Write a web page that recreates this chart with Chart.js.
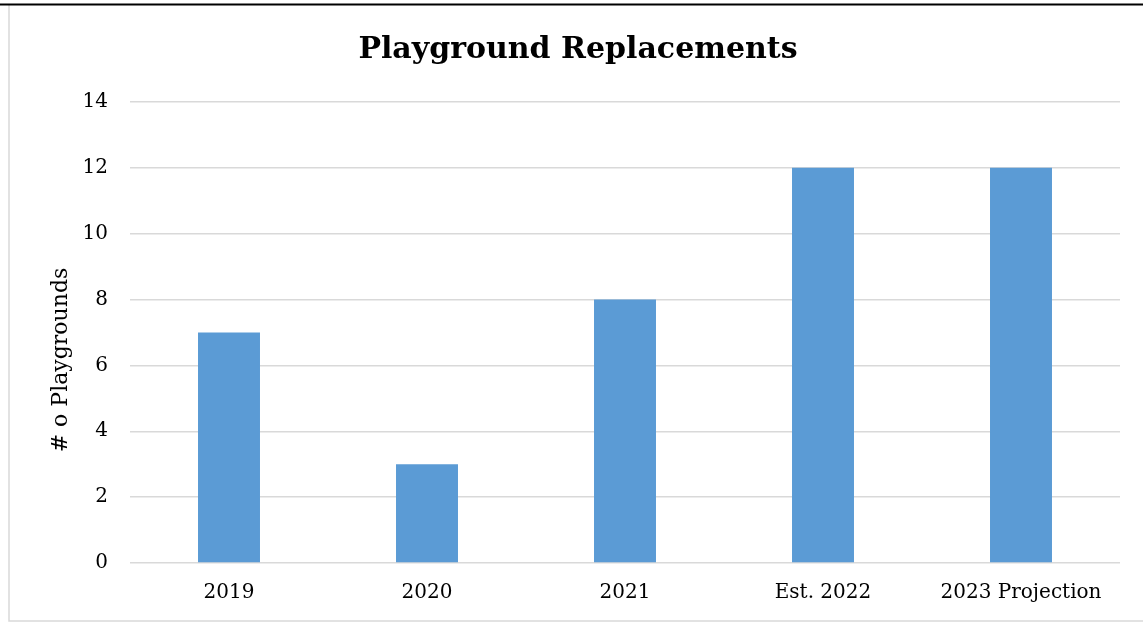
<!DOCTYPE html>
<html>
<head>
<meta charset="utf-8">
<script src="https://cdn.jsdelivr.net/npm/chart.js@4/dist/chart.umd.min.js"></script>
<style>
  html, body { margin: 0; padding: 0; background: #fff; }
  #wrap { position: relative; width: 1143px; height: 623px; }
  canvas { display: block; }
</style>
</head>
<body>
<div id="wrap"><canvas id="c" width="1143" height="623"></canvas></div>
<script>
const categories = ["2019", "2020", "2021", "Est. 2022", "2023 Projection"];
const playgrounds = [7, 3, 8, 12, 12];
const yTicks = [0, 2, 4, 6, 8, 10, 12, 14];
const chartTitle = "Playground Replacements";
const yAxisTitle = "# o Playgrounds";

const FONT = "'DejaVu Serif', serif";

const framePlugin = {
  id: 'frame',
  afterDraw(chart) {
    const ctx = chart.ctx;
    ctx.save();
    ctx.strokeStyle = '#d9d9d9';
    ctx.lineWidth = 1.5;
    ctx.beginPath();
    ctx.moveTo(9, 5);
    ctx.lineTo(9, 621);
    ctx.lineTo(1143, 621);
    ctx.stroke();
    ctx.strokeStyle = '#000';
    ctx.lineWidth = 2;
    ctx.beginPath();
    ctx.moveTo(0, 4.5);
    ctx.lineTo(1143, 4.5);
    ctx.stroke();
    // chart title
    ctx.fillStyle = '#000';
    ctx.textAlign = 'center';
    ctx.textBaseline = 'middle';
    ctx.font = "bold 30px " + FONT;
    ctx.fillText(chartTitle, 578, 50);
    // y axis title
    ctx.font = "22px " + FONT;
    ctx.translate(61, 360);
    ctx.rotate(-Math.PI / 2);
    ctx.fillText(yAxisTitle, 0, 0);
    ctx.restore();
  }
};

new Chart(document.getElementById('c'), {
  type: 'bar',
  data: {
    labels: categories,
    datasets: [{
      data: playgrounds,
      backgroundColor: '#5b9bd5',
      borderWidth: 0,
      categoryPercentage: 1.0,
      barPercentage: 0.313
    }]
  },
  options: {
    responsive: false,
    animation: false,
    devicePixelRatio: 1,
    layout: { padding: { left: 0, right: 23, top: 102, bottom: 0 } },
    plugins: {
      legend: { display: false },
      tooltip: { enabled: false },
      title: { display: false }
    },
    scales: {
      x: {
        grid: { display: false, drawTicks: false },
        border: { display: false },
        ticks: {
          color: '#000',
          font: { family: FONT, size: 20 },
          padding: 18,
          maxRotation: 0,
          autoSkip: false
        },
        afterFit(scale) { scale.height = 60; }
      },
      y: {
        min: 0,
        max: 14,
        afterBuildTicks(scale) { scale.ticks = yTicks.map(v => ({ value: v })); },
        grid: { color: '#d9d9d9', lineWidth: 1.5, drawTicks: false },
        border: { display: false },
        ticks: {
          color: '#000',
          font: { family: FONT, size: 20 },
          padding: 22
        },
        afterFit(scale) { scale.width = 130; }
      }
    }
  },
  plugins: [framePlugin]
});
</script>
</body>
</html>
